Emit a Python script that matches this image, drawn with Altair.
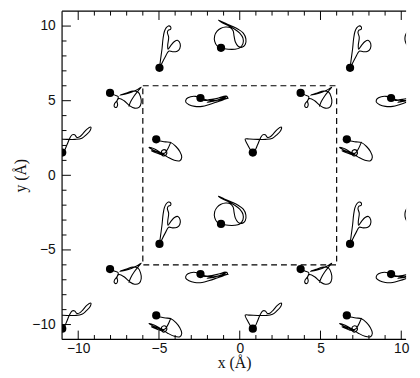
import altair as alt
import pandas as pd

# ---- trajectory shapes: offsets (Å) from the black dot (starting point) ----
A_dx = [0, 0.08, 0.16, 0.22, 0.30, 0.41, 0.55, 0.69, 0.69, 0.55, 0.49, 0.57, 0.51, 0.53, 0.71, 0.93, 1.14, 1.28, 1.26, 1.10, 0.81, 0.57, 0.37, 0.16, 0.04]
A_dy = [0, 0.65, 1.30, 1.95, 2.42, 2.68, 2.81, 2.75, 2.59, 2.53, 2.38, 2.05, 1.51, 1.25, 1.51, 1.77, 1.84, 1.62, 1.30, 1.12, 1.08, 1.12, 0.76, 0.32, 0.04]

B_dx = [0, -0.24, -0.39, -0.39, -0.24, 0.00, 0.28, 0.57, 0.75, 0.81, 0.89, 1.06, 1.30, 1.50, 1.54, 1.38, 1.06, 0.65, 0.20, -0.16, 0.08, 0.49, 0.85, 1.16, 1.36, 1.36, 1.16, 0.85, 0.45, 0.14]
B_dy = [0, 0.13, 0.43, 0.82, 1.12, 1.32, 1.40, 1.36, 1.14, 0.78, 0.39, 0.11, 0.04, 0.22, 0.60, 0.99, 1.25, 1.47, 1.68, 1.86, 1.68, 1.47, 1.25, 0.99, 0.65, 0.28, 0.00, -0.09, -0.09, -0.04]

C_dx = [0, 0.26, 0.51, 0.43, 0.28, 0.26, 0.39, 0.47, 0.43, 0.55, 0.87, 1.22, 1.52, 1.81, 1.93, 1.89, 1.73, 1.42, 1.02, 0.61, 0.91, 1.32, 1.68, 1.93, 1.73, 1.48, 1.28, 1.16]
C_dy = [0, -0.13, -0.26, -0.52, -0.73, -0.91, -0.97, -0.80, -0.54, -0.37, -0.52, -0.86, -1.02, -0.95, -0.65, -0.26, 0.06, 0.13, 0.00, -0.15, -0.09, 0.04, 0.22, 0.39, 0.13, -0.22, -0.58, -0.91]

D_dx = [0, -0.30, -0.61, -0.87, -0.91, -0.71, -0.35, 0.10, 0.55, 1.02, 1.42, 1.68, 1.56, 1.12, 0.61, 0.20, 0.71, 1.28, 1.64, 1.32, 0.81, 0.41, 0.91, 1.48, 1.73, 1.22, 0.61, 0.20]
D_dy = [0, 0.11, 0.09, -0.06, -0.28, -0.45, -0.56, -0.56, -0.43, -0.26, -0.11, 0.04, 0.13, 0.00, -0.13, -0.17, -0.09, 0.04, 0.13, -0.04, -0.22, -0.28, -0.17, -0.04, 0.00, -0.13, -0.17, -0.09]

E_dx = [0, 0.24, 0.57, 0.91, 1.22, 1.46, 1.58, 1.46, 1.12, 0.71, 0.30, -0.10, -0.45, -0.20, 0.20, 0.45, 0.61, 0.65, 0.49, 0.32, 0.41, 0.16, -0.30, 0.10, 0.51, 0.71, 0.85, 0.91]
E_dy = [0, -0.11, -0.17, -0.22, -0.48, -0.82, -1.19, -1.43, -1.40, -1.19, -0.91, -0.65, -0.54, -0.71, -0.91, -1.12, -1.04, -0.82, -0.69, -0.82, -1.04, -0.97, -0.76, -0.86, -0.93, -0.65, -0.32, -0.17]

F_dx = [0, 0.14, 0.30, 0.47, 0.61, 0.77, 0.91, 1.08, 1.28, 1.52, 1.77, 1.73, 1.48, 1.22, 0.81, 0.30, -0.20, -0.47, -0.30, -0.10]
F_dy = [0, 0.15, 0.54, 0.97, 1.19, 1.19, 1.02, 1.06, 1.27, 1.56, 1.71, 1.49, 1.19, 0.97, 0.89, 0.89, 0.91, 0.91, 0.48, 0.11]

shape_names = ["A", "B", "C", "D", "E", "F"]
shape_dx = [A_dx, B_dx, C_dx, D_dx, E_dx, F_dx]
shape_dy = [A_dy, B_dy, C_dy, D_dy, E_dy, F_dy]

# starting (dot) positions of the molecules in the central cell (Å)
base_x = [-4.97, -1.16, 3.77, -2.43, -5.17, 0.81]
base_y = [-4.60, -3.26, 5.52, 5.18, 2.41, 1.52]

cell = 11.8              # periodic repeat (Å)
image_steps = [-1, 0, 1]

box = [-6, 6]            # dashed simulation cell
tick_major = [-10, -5, 0, 5, 10]
tick_minor = [-9, -8, -7, -6, -4, -3, -2, -1, 1, 2, 3, 4, 6, 7, 8, 9]

# ---- build tables ----
rows, dots = [], []
for k, name in enumerate(shape_names):
    for i in image_steps:
        for j in image_steps:
            ox = base_x[k] + i * cell
            oy = base_y[k] + j * cell
            gid = f"{name}_{i}_{j}"
            for n, (dx, dy) in enumerate(zip(shape_dx[k], shape_dy[k])):
                rows.append({"g": gid, "n": n, "x": ox + dx, "y": oy + dy})
            dots.append({"x": ox, "y": oy})
traj = pd.DataFrame(rows)
dot_df = pd.DataFrame(dots)

W, H = 350, 334
xscale = alt.Scale(domain=[-11, 10.3], nice=False, zero=False)
yscale = alt.Scale(domain=[-11, 11], nice=False, zero=False)
xaxis = alt.Axis(values=tick_major, labelPadding=2, titlePadding=0, title="x (Å)")
yaxis = alt.Axis(values=tick_major, labelPadding=7, titlePadding=3, title="y (Å)")


def X(f):
    return alt.X(f, type="quantitative", scale=xscale, axis=xaxis)


def Y(f):
    return alt.Y(f, type="quantitative", scale=yscale, axis=yaxis)


lines = alt.Chart(traj).mark_line(
    color="black", strokeWidth=1.1, interpolate="catmull-rom", clip=True
).encode(x=X("x"), y=Y("y"), detail="g:N", order="n:Q")

points = alt.Chart(dot_df).mark_circle(
    color="black", size=70, opacity=1, clip=True
).encode(x=X("x"), y=Y("y"))

box_df = pd.DataFrame({"x0": [box[0]], "x1": [box[1]], "y0": [box[0]], "y1": [box[1]]})
cellbox = alt.Chart(box_df).mark_rect(
    filled=False, stroke="black", strokeWidth=1.2, strokeDash=[6, 4]
).encode(x=X("x0"), x2="x1", y=Y("y0"), y2="y1")

maj = pd.DataFrame({"t": tick_major})
mnr = pd.DataFrame({"t": tick_minor})
tick_layers = []
for df, L in [(maj, 9), (mnr, 4.5)]:
    tick_layers.append(alt.Chart(df).mark_rule(color="black", strokeWidth=1).encode(
        x=X("t"), y=alt.value(H), y2=alt.value(H - L)))
    tick_layers.append(alt.Chart(df).mark_rule(color="black", strokeWidth=1).encode(
        x=X("t"), y=alt.value(0), y2=alt.value(L)))
    tick_layers.append(alt.Chart(df).mark_rule(color="black", strokeWidth=1).encode(
        y=Y("t"), x=alt.value(0), x2=alt.value(L)))

one = alt.Data(values=[{}])
frame = [
    alt.Chart(one).mark_rule(color="black", strokeWidth=1.2).encode(
        x=alt.value(0), y=alt.value(0), y2=alt.value(H)),
    alt.Chart(one).mark_rule(color="black", strokeWidth=1.2).encode(
        x=alt.value(0), x2=alt.value(W), y=alt.value(0)),
    alt.Chart(one).mark_rule(color="black", strokeWidth=1.2).encode(
        x=alt.value(0), x2=alt.value(W), y=alt.value(H)),
]

chart = alt.layer(cellbox, lines, points, *tick_layers, *frame).properties(
    width=W, height=H,
    autosize=alt.AutoSizeParams(type="none"),
    padding={"left": 55, "top": 0, "right": 6, "bottom": 36},
).configure_view(stroke=None).configure_axis(
    labelFont="Liberation Sans", labelFontSize=14, labelColor="#111",
    titleFont="Liberation Serif", titleFontSize=16, titleFontWeight="normal",
    titleColor="#111", ticks=False, tickSize=0, domain=False, grid=False,
    labelFlush=False,
)

chart.save("out.html", embed_options={"renderer": "svg", "actions": False})
